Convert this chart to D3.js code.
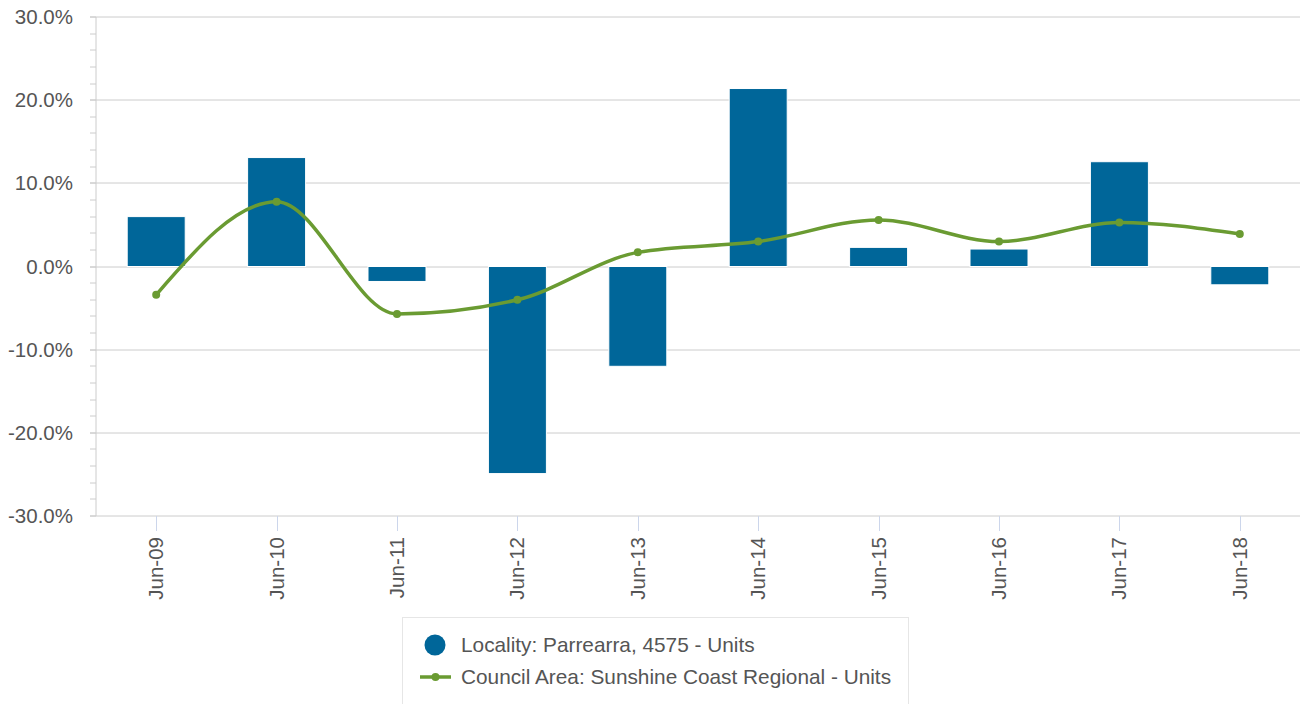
<!DOCTYPE html>
<html>
<head>
<meta charset="utf-8">
<script src="https://cdn.jsdelivr.net/npm/d3@7/dist/d3.min.js"></script>
<style>
    body { margin: 0; background: #fff; }
    svg { display: block; font-family: 'Liberation Sans', Arial, sans-serif; }
</style>
</head>
<body>
<svg id="chart" width="1300" height="704"></svg>
<script>
'use strict';

var categories = ['Jun-09', 'Jun-10', 'Jun-11', 'Jun-12', 'Jun-13', 'Jun-14', 'Jun-15', 'Jun-16', 'Jun-17', 'Jun-18'];
var localityValues = [6.0, 13.1, -1.8, -24.9, -12.0, 21.4, 2.3, 2.1, 12.6, -2.2];
var councilValues = [-3.4, 7.8, -5.7, -4.0, 1.7, 3.0, 5.6, 3.0, 5.3, 3.9];
var yTicks = [-30, -20, -10, 0, 10, 20, 30];
var seriesNames = ['Locality: Parrearra, 4575 - Units', 'Council Area: Sunshine Coast Regional - Units'];

var barColor = '#006699';
var lineColor = '#6a9b32';
var textColor = '#555555';
var gridColor = '#cccccc';
var fontSize = '20.5px';

var svg = d3.select('#chart');
var margin = {top: 17, right: 0, bottom: 188, left: 96};
var width = 1300 - margin.left - margin.right;
var height = 704 - margin.top - margin.bottom;

var x = d3.scaleBand()
    .domain(categories)
    .range([margin.left, margin.left + width])
    .paddingInner(0)
    .paddingOuter(0);

var y = d3.scaleLinear()
    .domain([-30, 30])
    .range([margin.top + height, margin.top]);

var minorTicks = d3.range(-30, 30.01, 2);

function cx(i) {
    return x(categories[i]) + x.bandwidth() / 2;
}

// minor ticks on the y axis
svg.append('g')
    .selectAll('line')
    .data(minorTicks)
    .enter()
    .append('line')
    .attr('x1', margin.left - 6)
    .attr('x2', margin.left)
    .attr('y1', function (d) { return Math.round(y(d)); })
    .attr('y2', function (d) { return Math.round(y(d)); })
    .attr('stroke', gridColor)
    .attr('stroke-width', 1);

// grid lines
svg.append('g')
    .selectAll('line')
    .data(yTicks)
    .enter()
    .append('line')
    .attr('x1', margin.left - 6)
    .attr('x2', margin.left + width)
    .attr('y1', function (d) { return Math.round(y(d)); })
    .attr('y2', function (d) { return Math.round(y(d)); })
    .attr('stroke', gridColor)
    .attr('stroke-width', 1);

// y axis line
svg.append('line')
    .attr('x1', margin.left)
    .attr('x2', margin.left)
    .attr('y1', margin.top)
    .attr('y2', margin.top + height)
    .attr('stroke', gridColor);

// y labels
svg.append('g')
    .selectAll('text')
    .data(yTicks)
    .enter()
    .append('text')
    .attr('x', 73)
    .attr('y', function (d) { return y(d) + 7; })
    .attr('text-anchor', 'end')
    .attr('fill', textColor)
    .style('font-size', fontSize)
    .text(function (d) { return d.toFixed(1) + '%'; });

// x ticks
svg.append('g')
    .selectAll('line')
    .data(categories)
    .enter()
    .append('line')
    .attr('x1', function (d, i) { return Math.round(cx(i)) + 0.5; })
    .attr('x2', function (d, i) { return Math.round(cx(i)) + 0.5; })
    .attr('y1', margin.top + height)
    .attr('y2', margin.top + height + 15)
    .attr('stroke', '#ccd6eb');

// x labels
svg.append('g')
    .selectAll('text')
    .data(categories)
    .enter()
    .append('text')
    .attr('transform', function (d, i) {
        return 'translate(' + (cx(i) + 7) + ',' + (margin.top + height + 21) + ') rotate(-90)';
    })
    .attr('text-anchor', 'end')
    .attr('fill', textColor)
    .style('font-size', fontSize)
    .text(function (d) { return d; });

// bars
var barWidth = 58;
svg.append('g')
    .selectAll('rect')
    .data(localityValues)
    .enter()
    .append('rect')
    .attr('x', function (d, i) { return cx(i) - barWidth / 2; })
    .attr('y', function (d) { return Math.min(y(d), y(0)); })
    .attr('width', barWidth)
    .attr('height', function (d) { return Math.abs(y(d) - y(0)); })
    .attr('fill', barColor)
    .attr('stroke', '#ffffff')
    .attr('stroke-width', 1);

// line
var line = d3.line()
    .x(function (d, i) { return cx(i); })
    .y(function (d) { return y(d); })
    .curve(d3.curveMonotoneX);

svg.append('path')
    .datum(councilValues)
    .attr('d', line)
    .attr('fill', 'none')
    .attr('stroke', lineColor)
    .attr('stroke-width', 3.5);

svg.append('g')
    .selectAll('circle')
    .data(councilValues)
    .enter()
    .append('circle')
    .attr('cx', function (d, i) { return cx(i); })
    .attr('cy', function (d) { return y(d); })
    .attr('r', 4)
    .attr('fill', lineColor);

// legend
var legend = svg.append('g');
legend.append('rect')
    .attr('x', 402.5)
    .attr('y', 617.5)
    .attr('width', 506)
    .attr('height', 100)
    .attr('fill', '#ffffff')
    .attr('stroke', '#e6e6e6');

legend.append('circle')
    .attr('cx', 435)
    .attr('cy', 645)
    .attr('r', 10.5)
    .attr('fill', barColor);

legend.append('line')
    .attr('x1', 420)
    .attr('x2', 451)
    .attr('y1', 677)
    .attr('y2', 677)
    .attr('stroke', lineColor)
    .attr('stroke-width', 3.5);

legend.append('circle')
    .attr('cx', 435.5)
    .attr('cy', 677)
    .attr('r', 4)
    .attr('fill', lineColor);

legend.selectAll('text')
    .data(seriesNames)
    .enter()
    .append('text')
    .attr('x', 461)
    .attr('y', function (d, i) { return 652 + i * 32; })
    .attr('fill', textColor)
    .style('font-size', '20.8px')
    .text(function (d) { return d; });
</script>
</body>
</html>
